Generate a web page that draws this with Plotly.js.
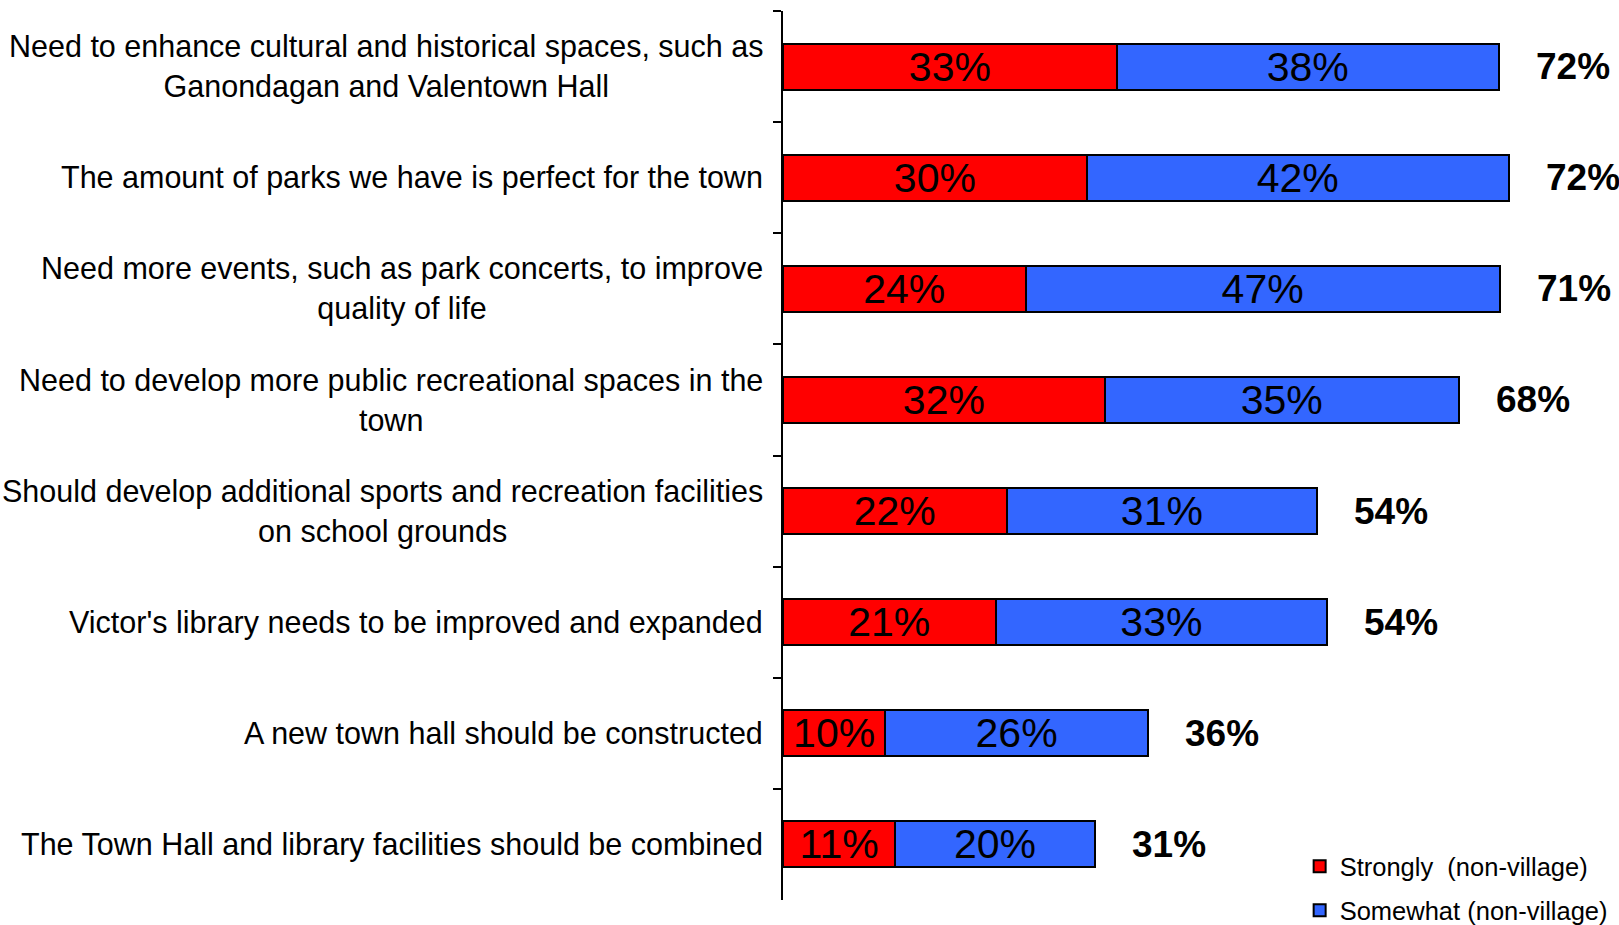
<!DOCTYPE html>
<html>
<head>
<meta charset="utf-8">
<script src="https://cdn.plot.ly/plotly-3.0.1.min.js"></script>
<style>
html, body { margin: 0; padding: 0; background: #ffffff; }
#chart { width: 1619px; height: 925px; }
</style>
</head>
<body>
<div id="chart"></div>
<script>
var categories = [
  "Need to enhance cultural and historical spaces, such as<br>Ganondagan and Valentown Hall",
  "The amount of parks we have is perfect for the town",
  "Need more events, such as park concerts, to improve<br>quality of life",
  "Need to develop more public recreational spaces in the<br>town",
  "Should develop additional sports and recreation facilities<br>on school grounds",
  "Victor's library needs to be improved and expanded",
  "A new town hall should be constructed",
  "The Town Hall and library facilities should be combined"
];
var strongly = [33.3, 30.3, 24.2, 32.1, 22.3, 21.2, 10.2, 11.2];
var somewhat = [38.1, 42.1, 47.3, 35.3, 31.0, 33.1, 26.2, 19.9];
var stronglyLabels = ["33%", "30%", "24%", "32%", "22%", "21%", "10%", "11%"];
var somewhatLabels = ["38%", "42%", "47%", "35%", "31%", "33%", "26%", "20%"];
var totalLabels = ["72%", "72%", "71%", "68%", "54%", "54%", "36%", "31%"];
var seriesNames = ["Strongly  (non-village)", "Somewhat (non-village)"];

var FONT = "Liberation Sans, Arial, sans-serif";

var common = {
  type: "bar",
  orientation: "h",
  y: categories,
  textposition: "inside",
  insidetextanchor: "middle",
  textangle: 0,
  constraintext: "none",
  cliponaxis: false,
  insidetextfont: { family: FONT, size: 41, color: "#000000" },
  hoverinfo: "skip"
};

var traces = [
  Object.assign({}, common, {
    name: seriesNames[0],
    x: strongly,
    text: stronglyLabels,
    legendgroup: "a",
    marker: { color: "#FF0000", line: { color: "#000000", width: 2 } }
  }),
  Object.assign({}, common, {
    name: seriesNames[1],
    x: somewhat,
    text: somewhatLabels,
    legendgroup: "b",
    marker: { color: "#3366FF", line: { color: "#000000", width: 2 } }
  })
];

var annotations = [];
categories.forEach(function (c, i) {
  annotations.push({
    xref: "paper", yref: "y", x: 0, y: c,
    xanchor: "right", yanchor: "middle", xshift: -19,
    text: c, showarrow: false, align: "center", borderpad: 0,
    font: { family: FONT, size: 30.5, color: "#000000" }
  });
  annotations.push({
    xref: "x", yref: "y", x: strongly[i] + somewhat[i], y: c,
    xanchor: "left", yanchor: "middle", xshift: 36,
    text: "<b>" + totalLabels[i] + "</b>", showarrow: false, borderpad: 0,
    font: { family: FONT, size: 37, color: "#000000" }
  });
});

var layout = {
  width: 1619, height: 925,
  paper_bgcolor: "#ffffff", plot_bgcolor: "#ffffff",
  margin: { l: 783, r: 0, t: 11, b: 25, autoexpand: false },
  barmode: "stack",
  bargap: 0.586,
  font: { family: FONT, color: "#000000" },
  xaxis: {
    range: [0, 83.4], visible: false, showgrid: false, zeroline: false, fixedrange: true
  },
  yaxis: {
    type: "category", autorange: "reversed",
    showticklabels: false, showgrid: false, zeroline: false,
    showline: true, linecolor: "#000000", linewidth: 2,
    ticks: "outside", tickson: "boundaries", ticklen: 8, tickwidth: 2, tickcolor: "#000000",
    fixedrange: true
  },
  showlegend: true,
  legend: {
    x: 0.618, xanchor: "left", y: 0.064, yanchor: "top",
    traceorder: "grouped", tracegroupgap: 8,
    bgcolor: "rgba(0,0,0,0)", borderwidth: 0,
    font: { family: FONT, size: 25.5, color: "#000000" }
  },
  annotations: annotations
};

Plotly.newPlot("chart", traces, layout, { displayModeBar: false, staticPlot: true });
</script>
</body>
</html>
